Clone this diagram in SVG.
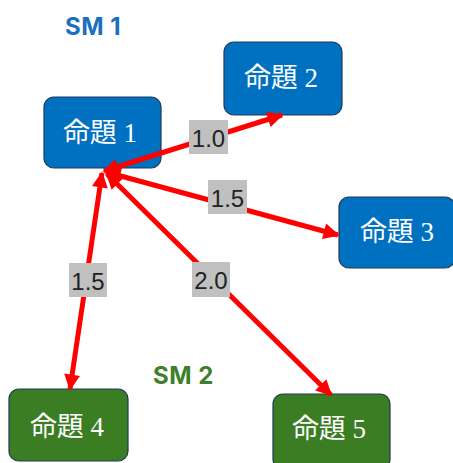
<svg xmlns="http://www.w3.org/2000/svg" width="453" height="463" viewBox="0 0 453 463">
<style>
.blue rect{fill:#0070C0;stroke:#1F3A5A;stroke-width:1.2}
.green rect{fill:#3A7D22;stroke:#1F3A5A;stroke-width:1.2}
.nt{font-family:"Liberation Serif","Noto Sans CJK JP",serif;font-size:27px;fill:#fff;text-anchor:middle;dominant-baseline:central}
.edge{stroke:#FF0000;stroke-width:5;fill:none}
.lb rect{fill:#C0C0C0}
.lb text{font-family:"Liberation Sans",Arial,sans-serif;font-size:24px;fill:#222;text-anchor:middle;dominant-baseline:central}
.sm{font-family:Inter,"Liberation Sans",sans-serif;font-size:24px;font-weight:bold;letter-spacing:0.5px}
</style>
<defs>
<marker id="ah" viewBox="0 0 10 10" refX="9" refY="5" markerWidth="18" markerHeight="16" markerUnits="userSpaceOnUse" orient="auto-start-reverse">
<path d="M0,0 L10,5 L0,10 z" fill="#FF0000"/>
</marker>
</defs>
<text class="sm" x="65" y="35" fill="#1A6FBF">SM 1</text>
<text class="sm" x="153" y="384" fill="#3D7F2A">SM 2</text>
<g id="node1" class="blue"><rect x="44" y="97" width="117" height="71" rx="10"/><text class="nt" x="100" y="133">命題 1</text></g>
<g id="node2" class="blue"><rect x="224" y="42" width="118" height="73" rx="10"/><text class="nt" x="281" y="78">命題 2</text></g>
<g id="node3" class="blue"><rect x="339" y="197" width="116" height="71" rx="10"/><text class="nt" x="397" y="232">命題 3</text></g>
<g id="node4" class="green"><rect x="9" y="389" width="119" height="72" rx="10"/><text class="nt" x="67" y="427">命題 4</text></g>
<g id="node5" class="green"><rect x="273" y="394" width="117" height="75" rx="10"/><text class="nt" x="329" y="429">命題 5</text></g>
<g id="edges">
<line class="edge" x1="104" y1="171" x2="282" y2="115" marker-start="url(#ah)" marker-end="url(#ah)"/>
<line class="edge" x1="106" y1="172" x2="338" y2="235" marker-start="url(#ah)" marker-end="url(#ah)"/>
<line class="edge" x1="102" y1="173" x2="70" y2="389" marker-start="url(#ah)" marker-end="url(#ah)"/>
<line class="edge" x1="107" y1="174" x2="331" y2="395" marker-start="url(#ah)" marker-end="url(#ah)"/>
<g class="lb"><rect x="189" y="120" width="39" height="34"/><text x="208.5" y="138">1.0</text></g>
<g class="lb"><rect x="208" y="180" width="39" height="34"/><text x="227.5" y="198">1.5</text></g>
<g class="lb"><rect x="69" y="263" width="38" height="34"/><text x="88" y="281">1.5</text></g>
<g class="lb"><rect x="192" y="262" width="38" height="35"/><text x="211" y="280">2.0</text></g>
</g>
</svg>
